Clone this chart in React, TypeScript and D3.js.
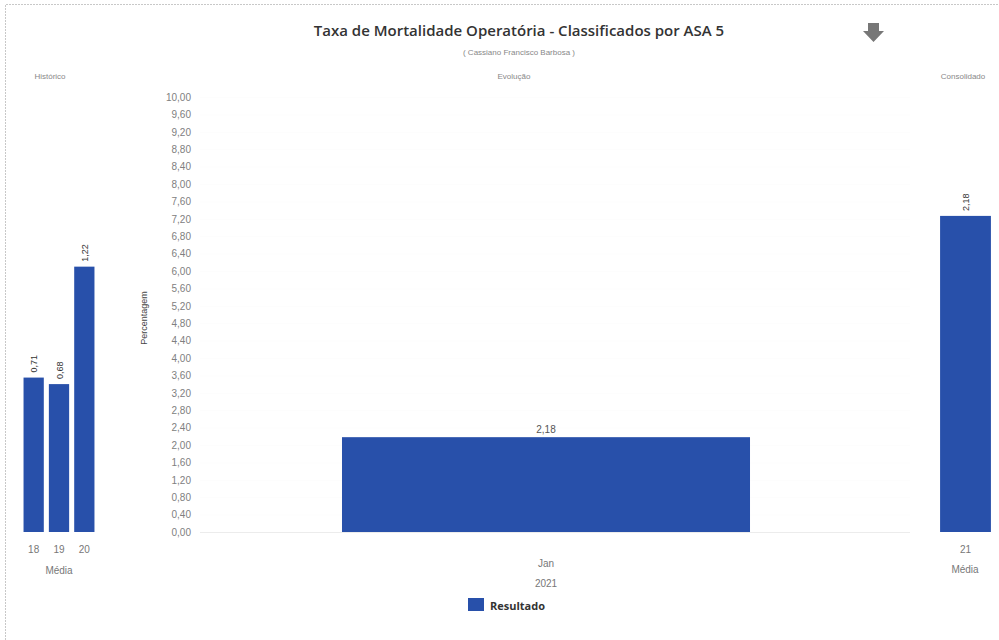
import React, { useRef, useEffect } from "react";
import * as d3 from "d3";

const W = 999;
const H = 640;

const titleText = "Taxa de Mortalidade Operatória - Classificados por ASA 5";
const subtitleText = "( Cassiano Francisco Barbosa )";

// Histórico panel
const histCategories = ["18", "19", "20"];
const histValues = [0.71, 0.68, 1.22];
const histMax = 2;

// Evolução panel
const evoCategories = ["Jan"];
const evoValues = [2.18];
const evoYear = "2021";
const yTicks = [
  0, 0.4, 0.8, 1.2, 1.6, 2, 2.4, 2.8, 3.2, 3.6, 4, 4.4, 4.8, 5.2, 5.6, 6,
  6.4, 6.8, 7.2, 7.6, 8, 8.4, 8.8, 9.2, 9.6, 10
];

// Consolidado panel
const consCategories = ["21"];
const consValues = [2.18];
const consMax = 3;

const barColor = "#2850aa";
const font = "'Liberation Sans', Arial, sans-serif";
const titleFont = "'Open Sans', 'Liberation Sans', sans-serif";
const fmt = (v: number) => d3.format(".2f")(v).replace(".", ",");

export default function App() {
  const ref = useRef<SVGSVGElement | null>(null);

  useEffect(() => {
    const svg = d3.select(ref.current);
    svg.selectAll("*").remove();
    svg.attr("font-family", font);

    // page border (dotted, faint)
    svg.append("path")
      .attr("d", `M5.5,${H} V4.5 H${W}`)
      .attr("fill", "none")
      .attr("stroke", "#c8c8c8")
      .attr("stroke-dasharray", "2,1");

    const top = 97;
    const base = 532;

    // titles
    svg.append("text")
      .attr("x", 519).attr("y", 36)
      .attr("text-anchor", "middle")
      .attr("font-family", titleFont)
      .attr("font-size", 15).attr("font-weight", 600)
      .attr("fill", "#333")
      .text(titleText);
    svg.append("text")
      .attr("x", 519).attr("y", 55)
      .attr("text-anchor", "middle")
      .attr("font-size", 8).attr("fill", "#888")
      .text(subtitleText);

    const panelTitles: [string, number][] = [["Histórico", 50], ["Evolução", 514], ["Consolidado", 963]];
    svg.selectAll("text.ptitle")
      .data(panelTitles)
      .enter()
      .append("text")
      .attr("class", "ptitle")
      .attr("x", (d) => d[1]).attr("y", 79)
      .attr("text-anchor", "middle")
      .attr("font-size", 8).attr("fill", "#888")
      .text((d) => d[0]);

    // download icon
    svg.append("path")
      .attr("d", "M868,23 H879 V31 H884 L873.5,42 L863,31 H868 Z")
      .attr("fill", "#777");

    // ---- Histórico
    const hx = d3.scaleBand<string>().domain(histCategories).range([21, 97]).paddingInner(0.2).paddingOuter(0.1);
    const hy = d3.scaleLinear().domain([0, histMax]).range([base, top]);
    const hg = svg.append("g");
    hg.selectAll("rect")
      .data(histValues)
      .enter()
      .append("rect")
      .attr("x", (_, i) => hx(histCategories[i])!)
      .attr("y", (d) => hy(d))
      .attr("width", hx.bandwidth())
      .attr("height", (d) => base - hy(d))
      .attr("fill", barColor);
    hg.selectAll("text.val")
      .data(histValues)
      .enter()
      .append("text")
      .attr("class", "val")
      .attr("transform", (d, i) => `translate(${hx(histCategories[i])! + hx.bandwidth() / 2 + 3.5},${hy(d) - 5}) rotate(-90)`)
      .attr("font-size", 9).attr("fill", "#333")
      .text((d) => fmt(d));
    hg.selectAll("text.cat")
      .data(histCategories)
      .enter()
      .append("text")
      .attr("class", "cat")
      .attr("x", (d) => hx(d)! + hx.bandwidth() / 2)
      .attr("y", 553)
      .attr("text-anchor", "middle")
      .attr("font-size", 10).attr("fill", "#777")
      .text((d) => d);
    hg.append("text")
      .attr("x", 59).attr("y", 574)
      .attr("text-anchor", "middle")
      .attr("font-size", 10).attr("fill", "#777")
      .text("Média");

    // ---- Evolução
    const ex = d3.scaleBand<string>().domain(evoCategories).range([200, 892]).paddingInner(0).paddingOuter(0.348);
    const ey = d3.scaleLinear().domain([0, 10]).range([base, top]);
    const eg = svg.append("g");

    eg.selectAll("line.grid")
      .data(yTicks)
      .enter()
      .append("line")
      .attr("class", "grid")
      .attr("x1", 200).attr("x2", 910)
      .attr("y1", (d) => ey(d) + 0.5).attr("y2", (d) => ey(d) + 0.5)
      .attr("stroke", (d) => (d === 0 ? "#ececec" : "#fdfdfd"));

    const axis = eg.append("g")
      .attr("transform", "translate(200,0)")
      .call(d3.axisLeft(ey).tickValues(yTicks).tickSize(0).tickPadding(9).tickFormat((d) => fmt(+d)));
    axis.select(".domain").remove();
    axis.selectAll("text")
      .attr("font-size", 10)
      .attr("font-family", font)
      .attr("fill", "#808080");

    eg.append("text")
      .attr("transform", `translate(147,318) rotate(-90)`)
      .attr("text-anchor", "middle")
      .attr("font-size", 9).attr("fill", "#444")
      .text("Percentagem");

    eg.selectAll("rect")
      .data(evoValues)
      .enter()
      .append("rect")
      .attr("x", (_, i) => ex(evoCategories[i])!)
      .attr("y", (d) => ey(d))
      .attr("width", ex.bandwidth())
      .attr("height", (d) => base - ey(d))
      .attr("fill", barColor);
    eg.selectAll("text.val")
      .data(evoValues)
      .enter()
      .append("text")
      .attr("class", "val")
      .attr("x", (_, i) => ex(evoCategories[i])! + ex.bandwidth() / 2)
      .attr("y", (d) => ey(d) - 4)
      .attr("text-anchor", "middle")
      .attr("font-size", 10).attr("fill", "#555")
      .text((d) => fmt(d));
    eg.selectAll("text.cat")
      .data(evoCategories)
      .enter()
      .append("text")
      .attr("class", "cat")
      .attr("x", (d) => ex(d)! + ex.bandwidth() / 2)
      .attr("y", 567)
      .attr("text-anchor", "middle")
      .attr("font-size", 10).attr("fill", "#777")
      .text((d) => d);
    eg.append("text")
      .attr("x", ex(evoCategories[0])! + ex.bandwidth() / 2).attr("y", 587)
      .attr("text-anchor", "middle")
      .attr("font-size", 10).attr("fill", "#777")
      .text(evoYear);

    // ---- Consolidado
    const cx = d3.scaleBand<string>().domain(consCategories).range([935, 996]).paddingInner(0).paddingOuter(0.1);
    const cy = d3.scaleLinear().domain([0, consMax]).range([base, top]);
    const cg = svg.append("g");
    cg.selectAll("rect")
      .data(consValues)
      .enter()
      .append("rect")
      .attr("x", (_, i) => cx(consCategories[i])!)
      .attr("y", (d) => cy(d))
      .attr("width", cx.bandwidth())
      .attr("height", (d) => base - cy(d))
      .attr("fill", barColor);
    cg.selectAll("text.val")
      .data(consValues)
      .enter()
      .append("text")
      .attr("class", "val")
      .attr("transform", (d, i) => `translate(${cx(consCategories[i])! + cx.bandwidth() / 2 + 3.5},${cy(d) - 5}) rotate(-90)`)
      .attr("font-size", 9).attr("fill", "#333")
      .text((d) => fmt(d));
    cg.selectAll("text.cat")
      .data(consCategories)
      .enter()
      .append("text")
      .attr("class", "cat")
      .attr("x", (d) => cx(d)! + cx.bandwidth() / 2)
      .attr("y", 553)
      .attr("text-anchor", "middle")
      .attr("font-size", 10).attr("fill", "#777")
      .text((d) => d);
    cg.append("text")
      .attr("x", 965).attr("y", 573)
      .attr("text-anchor", "middle")
      .attr("font-size", 10).attr("fill", "#777")
      .text("Média");

    // legend
    svg.append("rect")
      .attr("x", 468).attr("y", 598)
      .attr("width", 16).attr("height", 13)
      .attr("fill", barColor);
    svg.append("text")
      .attr("x", 490).attr("y", 610)
      .attr("font-family", titleFont)
      .attr("font-size", 11).attr("font-weight", "bold")
      .attr("fill", "#333")
      .text("Resultado");
  }, []);

  return (
    <div style={{ position: "absolute", left: 0, top: 0, width: W, height: H, background: "#fff" }}>
      <svg ref={ref} width={W} height={H} />
    </div>
  );
}
